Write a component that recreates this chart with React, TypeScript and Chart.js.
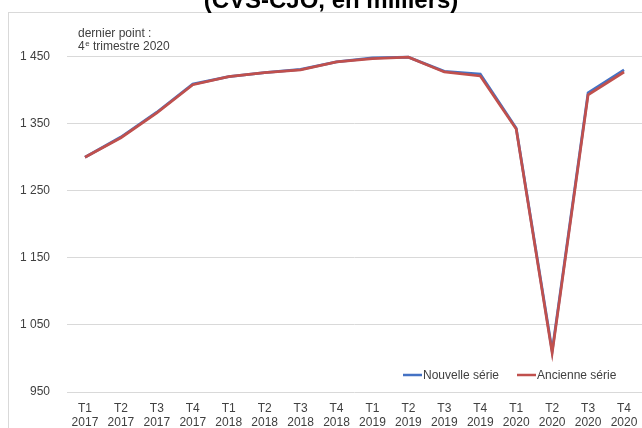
import React, { useEffect, useRef } from "react";
import { Chart, registerables } from "chart.js";

Chart.register(...registerables);

const categories: string[][] = [
  ["T1", "2017"], ["T2", "2017"], ["T3", "2017"], ["T4", "2017"],
  ["T1", "2018"], ["T2", "2018"], ["T3", "2018"], ["T4", "2018"],
  ["T1", "2019"], ["T2", "2019"], ["T3", "2019"], ["T4", "2019"],
  ["T1", "2020"], ["T2", "2020"], ["T3", "2020"], ["T4", "2020"],
];

const nouvelleSerie = [1300, 1330, 1367, 1409, 1420, 1426, 1431, 1442, 1448, 1449, 1428, 1424, 1343, 1011, 1396, 1430];
const ancienneSerie = [1300, 1329, 1366, 1408, 1420, 1426, 1430, 1442, 1447, 1449, 1427, 1421, 1342, 1008, 1393, 1427];

const yTicks = [950, 1050, 1150, 1250, 1350, 1450];

const titleText = "(CVS-CJO, en milliers)";
const noteLine1 = "dernier point :";
const noteLine2 = ["4", "e", " trimestre 2020"];

const BLUE = "#4472C4";
const RED = "#C0504D";
const TEXT = "#404040";
const GRID = "#d9d9d9";
const FONT = "'Liberation Sans', Arial, sans-serif";

const fmt = (v: number) => String(v).replace(/\B(?=(\d{3})+(?!\d))/g, " ");

const decorPlugin = {
  id: "decor",
  beforeDraw(chart: any) {
    const ctx = chart.ctx;
    ctx.save();
    ctx.strokeStyle = GRID;
    ctx.lineWidth = 1;
    ctx.strokeRect(8.5, 12.5, 1000, 1000);
    ctx.fillStyle = "#000";
    ctx.font = `bold 24px ${FONT}`;
    ctx.textAlign = "center";
    ctx.textBaseline = "alphabetic";
    ctx.fillText(titleText, 331, 8);
    ctx.restore();
  },
  afterDraw(chart: any) {
    const ctx = chart.ctx;
    const area = chart.chartArea;
    ctx.save();
    ctx.fillStyle = TEXT;
    ctx.font = `12px ${FONT}`;
    ctx.textAlign = "left";
    ctx.textBaseline = "middle";
    ctx.fillText(noteLine1, 78, 34);
    let x = 78;
    ctx.fillText(noteLine2[0], x, 47);
    x += ctx.measureText(noteLine2[0]).width;
    ctx.font = `8px ${FONT}`;
    ctx.fillText(noteLine2[1], x + 0.5, 44);
    x += ctx.measureText(noteLine2[1]).width + 0.5;
    ctx.font = `12px ${FONT}`;
    ctx.fillText(noteLine2[2], x, 47);
    const ds = chart.data.datasets;
    const ly = area.bottom - 17;
    let lx = area.right - 239;
    ds.forEach((d: any, k: number) => {
      ctx.strokeStyle = d.borderColor;
      ctx.lineWidth = 2.5;
      ctx.beginPath();
      ctx.moveTo(lx, ly);
      ctx.lineTo(lx + 19, ly);
      ctx.stroke();
      ctx.fillStyle = TEXT;
      ctx.font = `12px ${FONT}`;
      ctx.fillText(d.label, lx + 20, ly + 1);
      if (k === 0) lx = area.right - 125;
    });
    ctx.restore();
  },
};

export default function App() {
  const ref = useRef<HTMLCanvasElement | null>(null);
  useEffect(() => {
    if (!ref.current) return;
    const chart = new Chart(ref.current, {
      type: "line",
      data: {
        labels: categories,
        datasets: [
          {
            label: "Nouvelle série",
            data: nouvelleSerie,
            borderColor: BLUE,
            backgroundColor: BLUE,
            borderWidth: 2.75,
            pointRadius: 0,
            tension: 0,
            order: 1,
          },
          {
            label: "Ancienne série",
            data: ancienneSerie,
            borderColor: RED,
            backgroundColor: RED,
            borderWidth: 2.75,
            pointRadius: 0,
            tension: 0,
            order: 0,
          },
        ],
      },
      options: {
        responsive: false,
        animation: false,
        layout: { padding: { top: 23, left: 0, right: 0, bottom: 0 } },
        plugins: {
          legend: { display: false },
          title: { display: false },
          tooltip: { enabled: false },
        },
        scales: {
          x: {
            offset: true,
            grid: { display: false, drawTicks: false },
            border: { display: false },
            ticks: {
              color: TEXT,
              font: { size: 12, family: FONT },
              padding: 9,
              maxRotation: 0,
              autoSkip: false,
            },
            afterFit(scale: any) {
              scale.height = 36;
              scale.paddingLeft = 0;
              scale.paddingRight = 0;
            },
          },
          y: {
            min: 950,
            max: 1500,
            grid: { color: GRID, drawTicks: false, lineWidth: 1 },
            border: { display: false },
            ticks: {
              color: TEXT,
              font: { size: 12, family: FONT },
              padding: 17,
              callback: (v: any) => fmt(Number(v)),
            },
            afterBuildTicks(scale: any) {
              scale.ticks = yTicks.map((v) => ({ value: v }));
            },
            afterFit(scale: any) {
              scale.width = 67;
              scale.paddingTop = 0;
              scale.paddingBottom = 0;
            },
          },
        },
      },
      plugins: [decorPlugin],
    });
    return () => chart.destroy();
  }, []);
  return (
    <div style={{ position: "fixed", left: 0, top: 0, width: 642, height: 428, background: "#fff" }}>
      <canvas ref={ref} width={642} height={428} style={{ display: "block" }} />
    </div>
  );
}
